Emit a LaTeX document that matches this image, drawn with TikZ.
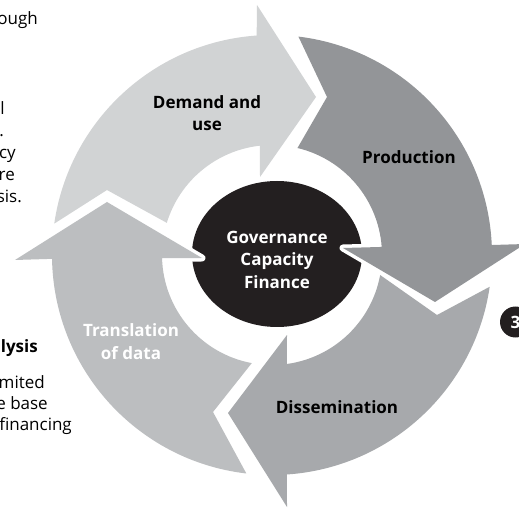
\documentclass[tikz,border=0pt]{standalone}
\usepackage{fontspec}
\setmainfont{Open Sans}
\usetikzlibrary{shapes.geometric}
\definecolor{demandc}{HTML}{D1D3D4}
\definecolor{prodc}{HTML}{939598}
\definecolor{dissc}{HTML}{A7A9AC}
\definecolor{transc}{HTML}{BCBEC0}
\definecolor{hubc}{HTML}{231F20}
\begin{document}
\begin{tikzpicture}[x=1pt,y=1pt,
  ringarrow/.style={fill=#1, preaction={draw=white,line width=7pt,line join=round}},
  lbl/.style={font=\bfseries\fontsize{17}{22.5}\selectfont, align=center, inner sep=0pt},
  bodytext/.style={font=\fontsize{17}{22}\selectfont, inner sep=0pt, anchor=base east},
  headtext/.style={font=\bfseries\fontsize{17}{22}\selectfont, inner sep=0pt, anchor=base east},
]
\useasboundingbox (0,0) rectangle (519,509);
\clip (0,0) rectangle (519,509);
\coordinate (C) at (272,254);

% central hub
\node[ellipse, fill=hubc, minimum width=170pt, minimum height=146pt, inner sep=0pt] (hub) at (277,255) {};

% Demand and use
\path[ringarrow=demandc] ([shift={(171.8:220)}]C) arc[start angle=171.8, end angle=94, radius=220]
  -- (257,504) -- (316,412) -- (260,332) -- ([shift={(96.3:110)}]C)
  arc[start angle=96.3, end angle=163, radius=110] -- (107,319) -- cycle;
% Production
\path[ringarrow=prodc] ([shift={(83.1:220)}]C) arc[start angle=83.1, end angle=2.6, radius=220]
  -- (525,265) -- (435,207) -- (343,261) -- ([shift={(4.2:110)}]C)
  arc[start angle=4.2, end angle=76.6, radius=110] -- (327,412) -- cycle;
% Dissemination
\path[ringarrow=dissc] ([shift={(-8.3:220)}]C) arc[start angle=-8.3, end angle=-86.1, radius=220]
  -- (287,2) -- (228,96) -- (287,174) -- ([shift={(-82.2:110)}]C)
  arc[start angle=-82.2, end angle=-10.5, radius=110] -- (437,194) -- cycle;
% Translation of data
\path[ringarrow=transc] ([shift={(263.3:220)}]C) arc[start angle=263.3, end angle=181, radius=220]
  -- (15,249) -- (107,307) -- (202,251) -- ([shift={(181.6:110)}]C)
  arc[start angle=181.6, end angle=259.4, radius=110] -- (213,97) -- cycle;

% labels
\node[lbl] (demand) at (207,396) {Demand and\\use};
\node[lbl] (production) at (409,352) {Production};
\node[lbl, text=white] (hubtext) at (277,249.5) {Governance\\Capacity\\Finance};
\node[lbl, text=white] (translation) at (131,167.5) {Translation\\of data};
\node[lbl] (dissemination) at (337,102) {Dissemination};

% cut-off page text at left
\node[bodytext] (t1) at (38,484) {ough};
\node[bodytext] (t2) at (5,394) {l};
\node[bodytext] (t3) at (4,372) {.};
\node[bodytext] (t4) at (16,350) {cy};
\node[bodytext] (t5) at (15,328) {re};
\node[bodytext] (t6) at (22,306) {sis.};
\node[headtext] (t7) at (38,157) {alysis};
\node[bodytext] (t8) at (45,121) {mited};
\node[bodytext] (t9) at (48,100) {e base};
\node[bodytext] (t10) at (72,79) {financing};

% step marker at right edge
\node[circle, fill=hubc, minimum size=31pt, inner sep=0pt, text=white,
      font=\bfseries\fontsize{17}{20}\selectfont] (step3) at (515.5,187) {3};
\end{tikzpicture}
\end{document}
